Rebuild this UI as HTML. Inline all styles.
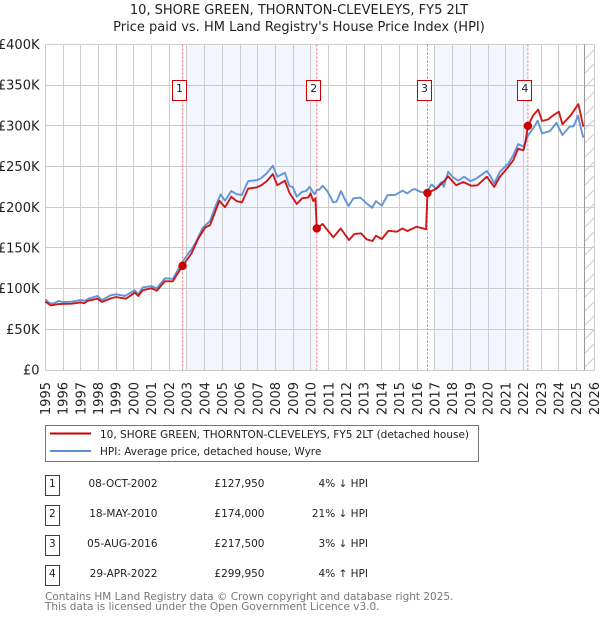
<!DOCTYPE html>
<html lang="en">
<head>
<meta charset="utf-8">
<title>10, SHORE GREEN, THORNTON-CLEVELEYS, FY5 2LT</title>
<style>
html,body{margin:0;padding:0;background:#fff;width:600px;height:620px;overflow:hidden}
svg{display:block}
text{font-family:"DejaVu Sans",sans-serif;fill:#222}
</style>
</head>
<body>
<svg id="chart" xmlns="http://www.w3.org/2000/svg" width="600" height="620" viewBox="0 0 600 620">
  <defs>
    <pattern id="hatch" patternUnits="userSpaceOnUse" width="14" height="14">
      <path d="M-1 15 L15 -1 M-8 8 L8 -8 M6 22 L22 6" stroke="#ccc" stroke-width="1" fill="none"/>
    </pattern>
  </defs>
  <text x="299" y="14" text-anchor="middle" font-size="13">10, SHORE GREEN, THORNTON-CLEVELEYS, FY5 2LT</text>
  <text x="299" y="31" text-anchor="middle" font-size="13">Price paid vs. HM Land Registry's House Price Index (HPI)</text>
  <g id="plot"></g>

  <g>
    <rect x="45.5" y="425.5" width="433" height="36" fill="#fff" stroke="#777" stroke-width="1"/>
    <line x1="50" x2="91" y1="433.5" y2="433.5" stroke="#cc0000" stroke-width="2"/>
    <text x="100" y="438" font-size="10.5">10, SHORE GREEN, THORNTON-CLEVELEYS, FY5 2LT (detached house)</text>
    <line x1="50" x2="91" y1="451" y2="451" stroke="#5b8fd4" stroke-width="2"/>
    <text x="100" y="455" font-size="10.5">HPI: Average price, detached house, Wyre</text>
  </g>

  <g font-size="10.5">
    <g>
      <rect x="45.5" y="475.5" width="14" height="20" fill="#fff" stroke="#cc0000"/>
      <text x="52.3" y="487" text-anchor="middle">1</text>
      <text x="157.5" y="487" text-anchor="end">08-OCT-2002</text>
      <text x="264.5" y="487" text-anchor="end">£127,950</text>
      <text x="368" y="487" text-anchor="end">4% ↓ HPI</text>
    </g>
    <g>
      <rect x="45.5" y="505.5" width="14" height="20" fill="#fff" stroke="#cc0000"/>
      <text x="52.3" y="517" text-anchor="middle">2</text>
      <text x="157.5" y="517" text-anchor="end">18-MAY-2010</text>
      <text x="264.5" y="517" text-anchor="end">£174,000</text>
      <text x="368" y="517" text-anchor="end">21% ↓ HPI</text>
    </g>
    <g>
      <rect x="45.5" y="535.5" width="14" height="20" fill="#fff" stroke="#cc0000"/>
      <text x="52.3" y="547" text-anchor="middle">3</text>
      <text x="157.5" y="547" text-anchor="end">05-AUG-2016</text>
      <text x="264.5" y="547" text-anchor="end">£217,500</text>
      <text x="368" y="547" text-anchor="end">3% ↓ HPI</text>
    </g>
    <g>
      <rect x="45.5" y="565.5" width="14" height="20" fill="#fff" stroke="#cc0000"/>
      <text x="52.3" y="577" text-anchor="middle">4</text>
      <text x="157.5" y="577" text-anchor="end">29-APR-2022</text>
      <text x="264.5" y="577" text-anchor="end">£299,950</text>
      <text x="368" y="577" text-anchor="end">4% ↑ HPI</text>
    </g>
  </g>

  <text x="45" y="600" font-size="10.5" style="fill:#777">Contains HM Land Registry data © Crown copyright and database right 2025.</text>
  <text x="45" y="610" font-size="10.5" style="fill:#777">This data is licensed under the Open Government Licence v3.0.</text>
</svg>
<script>
var yearTicks = [1995,1996,1997,1998,1999,2000,2001,2002,2003,2004,2005,2006,2007,2008,2009,2010,2011,2012,2013,2014,2015,2016,2017,2018,2019,2020,2021,2022,2023,2024,2025,2026];
var priceTicks = [0,50,100,150,200,250,300,350,400];
var priceTickLabels = ['£0','£50K','£100K','£150K','£200K','£250K','£300K','£350K','£400K'];

var hpiTimes = [1995,1995.25,1995.5,1995.75,1996,1996.5,1997,1997.2,1997.5,1997.95,1998.2,1998.7,1999,1999.5,2000.05,2000.25,2000.5,2001,2001.3,2001.75,2002.2,2002.75,2003,2003.25,2003.5,2003.9,2004.3,2004.6,2004.9,2005.15,2005.5,2005.8,2006.1,2006.45,2006.97,2007.2,2007.5,2007.85,2008.1,2008.53,2008.78,2008.97,2009.2,2009.5,2009.73,2009.92,2010.2,2010.33,2010.47,2010.66,2010.92,2011.26,2011.45,2011.7,2011.93,2012.13,2012.4,2012.8,2013.14,2013.46,2013.67,2014,2014.33,2014.75,2015.17,2015.44,2015.69,2015.87,2016.2,2016.5,2016.82,2017.06,2017.38,2017.5,2017.75,2018.03,2018.32,2018.64,2019,2019.35,2019.93,2020.1,2020.35,2020.67,2021.15,2021.43,2021.7,2022.03,2022.25,2022.55,2022.8,2023.05,2023.5,2023.86,2024.2,2024.6,2024.83,2025.08,2025.2,2025.38];
var hpiValues = [87,82,82,84.8,83.5,83.9,86,85,88,91,86,92,93,91,98,93,101.5,103,100.5,112.6,112,133,141,148,157,175,183,200.6,215.8,208,220,216,215,232,233.4,236,241.6,251,237.5,242.4,226,225,213,219,220,225,216,221,221.5,226.5,220,206,207,220,209,201.5,211,211.7,204.8,199.4,207.6,202,215,215,220.3,217,221,222.4,218.7,218,228,223,231,225,243.6,236.6,232.6,237.5,232,235.5,244.5,239.6,229.4,243.6,253.9,264,277.6,274.3,288,297,306.3,290.8,293.6,303.8,288.7,299,299.5,312.4,301,285.4];

var paidTimes = [1995,1995.3,1995.75,1996.5,1997,1997.2,1997.4,1997.95,1998.2,1998.7,1999,1999.55,2000.05,2000.25,2000.5,2001,2001.3,2001.75,2002.2,2002.75,2003.25,2003.64,2004.02,2004.3,2004.83,2005.15,2005.5,2005.8,2006.1,2006.46,2006.93,2007.2,2007.5,2007.85,2008.1,2008.53,2008.78,2009.2,2009.5,2009.85,2009.98,2010.13,2010.25,2010.33,2010.66,2011.26,2011.68,2012.15,2012.44,2012.83,2013.14,2013.48,2013.67,2014,2014.37,2014.85,2015.17,2015.44,2015.97,2016.5,2016.58,2017.1,2017.47,2017.75,2018.2,2018.6,2019.05,2019.4,2019.93,2020.35,2020.67,2021.15,2021.43,2021.7,2022,2022.13,2022.25,2022.55,2022.83,2023.05,2023.4,2023.68,2024,2024.2,2024.67,2025.1,2025.38];
var paidValues = [84,79.4,81,81.5,83,82,85,87.6,83.5,88,89.7,87.6,95,91,98,100.4,97.4,109,109,127.95,143,161.8,175,178,208,200,213,207.6,206,223,224.4,227,232,240.8,227,232.6,218,204,211,212,217,207.6,211,174,179.4,163,174,159.7,167,168,160.6,158.5,165,161,171,170,174,170.8,176,173,217.5,223,231,238,227,231,226.4,227,237.5,225,237.5,249.8,258,272,270,282.5,299.95,313,320,306,308,313,317.4,302,313,326.8,299];

var saleNumbers = ['1','2','3','4'];
var saleTimes = [2002.75,2010.33,2016.58,2022.25];
var salePrices = [127.95,174,217.5,299.95];
var shadeStarts = [2003,2017];
var shadeEnds = [2010.33,2022.25];
var dataEndYear = 2025.47;

var NS = 'http://www.w3.org/2000/svg';
var plot = document.getElementById('plot');
var LEFT = 45.3, RIGHT = 594.3, TOP = 44.5, BOTTOM = 370;

function xScale(t){ return LEFT + (t - 1995) * (RIGHT - LEFT) / 31; }
function yScale(v){ return BOTTOM - v * (BOTTOM - TOP) / 400; }
function crisp(p){ return Math.floor(p) + 0.5; }
function make(tag, attrs){
  var el = document.createElementNS(NS, tag);
  for (var k in attrs) el.setAttribute(k, attrs[k]);
  plot.appendChild(el);
  return el;
}
function pathFrom(times, values){
  var d = '';
  for (var i = 0; i < times.length; i++){
    d += (i ? 'L' : 'M') + xScale(times[i]).toFixed(2) + ' ' + yScale(values[i]).toFixed(2);
  }
  return d;
}

shadeStarts.forEach(function(s, i){
  var el = make('rect', {x:xScale(s), y:TOP, width:xScale(shadeEnds[i]) - xScale(s), height:BOTTOM - TOP, fill:'#f3f6fe'});
  
  
});

priceTicks.forEach(function(v, i){
  var y = crisp(yScale(v));
  var gl = make('line', {x1:crisp(LEFT), x2:crisp(RIGHT), y1:y, y2:y, stroke:'#cccccc', 'stroke-width':1});
  
  
  var tx = make('text', {x:39.5, y:yScale(v) + 4.5, 'text-anchor':'end', 'font-size':13});
  
  
  tx.textContent = priceTickLabels[i];
});

yearTicks.forEach(function(yr){
  var x = crisp(xScale(yr));
  var gl = make('line', {x1:x, x2:x, y1:TOP, y2:BOTTOM + 0.5, stroke:'#cccccc', 'stroke-width':1});
  
  
  var px = xScale(yr) + 4.6;
  var tx = make('text', {x:px, y:382, 'text-anchor':'end', 'font-size':13, transform:'rotate(-90 ' + px + ' 382)'});
  
  
  tx.textContent = yr;
});

var hatchRect = make('rect', {x:xScale(dataEndYear), y:TOP, width:RIGHT - xScale(dataEndYear), height:BOTTOM - TOP, fill:'url(#hatch)'});


var endLine = make('line', {x1:crisp(xScale(dataEndYear)), x2:crisp(xScale(dataEndYear)), y1:TOP, y2:BOTTOM, stroke:'#999999', 'stroke-width':1});



saleTimes.forEach(function(t){
  var dl = make('line', {x1:xScale(t), x2:xScale(t), y1:TOP, y2:BOTTOM, stroke:'#ff6666', 'stroke-width':1, 'stroke-dasharray':'2 2'});
  
  
});

var hpiLine = make('path', {d:pathFrom(hpiTimes, hpiValues), fill:'none', stroke:'#5b8fd4', 'stroke-width':1.9, 'stroke-linejoin':'round', opacity:0.95});


var paidLine = make('path', {d:pathFrom(paidTimes, paidValues), fill:'none', stroke:'#cc0000', 'stroke-width':1.9, 'stroke-linejoin':'round', opacity:0.9});



saleTimes.forEach(function(t, i){
  var dot = make('circle', {cx:xScale(t), cy:yScale(salePrices[i]), r:4.2, fill:'#cc0000'});
  
  
  var cx = xScale(t) - 3;
  var box = make('rect', {x:crisp(cx - 7), y:80.5, width:14, height:20, fill:'#fff', stroke:'#cc0000', 'stroke-width':1});
  
  
  var lab = make('text', {x:cx, y:92, 'text-anchor':'middle', 'font-size':11});
  
  
  lab.textContent = saleNumbers[i];
});
</script>
</body>
</html>
